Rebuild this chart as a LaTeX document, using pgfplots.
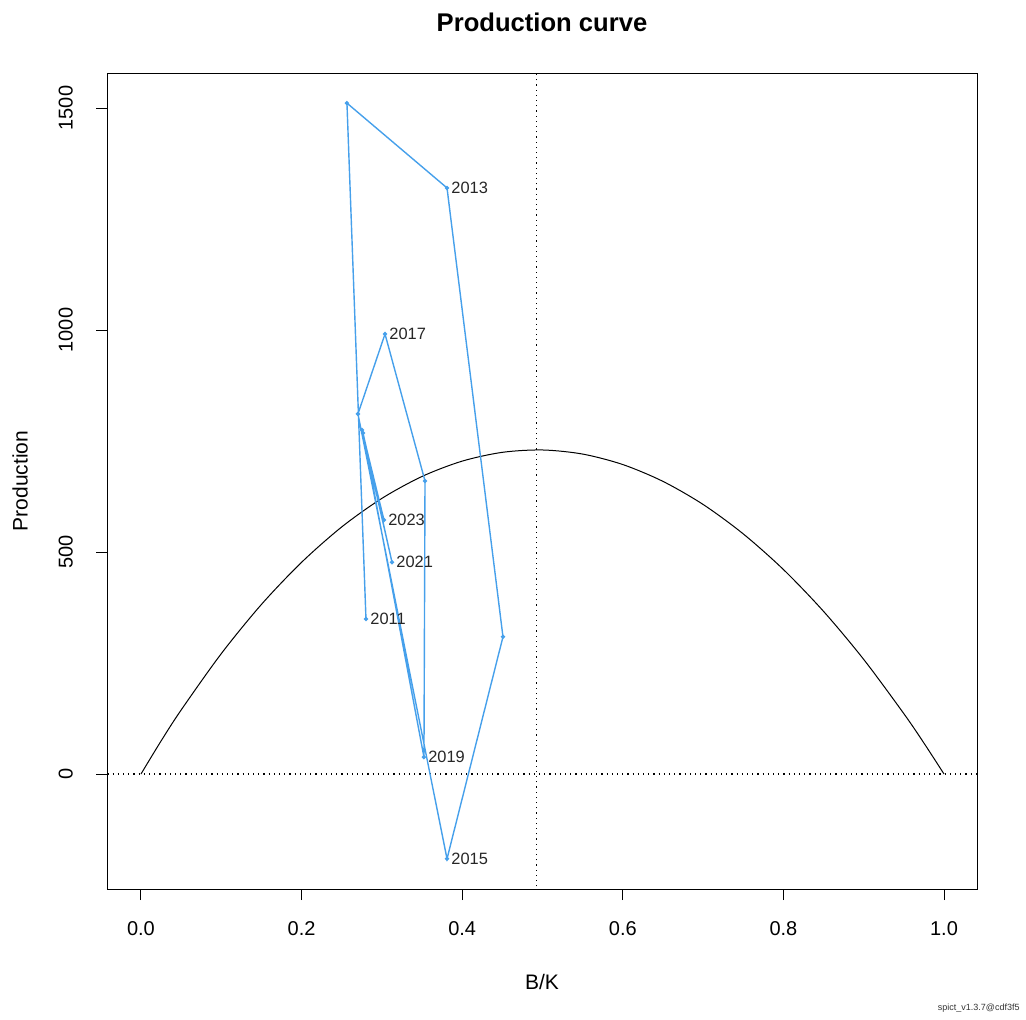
\documentclass[border=0pt]{standalone}
\usepackage{pgfplots}
\pgfplotsset{compat=1.18}
\usepackage{pgfplotstable}
\usepackage{fontspec}
\setmainfont{Liberation Sans}
\definecolor{spblue}{RGB}{70,160,235}

\pgfplotstableread{
x y
0.2802 349
0.2565 1511
0.3811 1320
0.4508 309
0.3811 -191
0.2702 811
0.3039 991
0.3537 660
0.3524 38
0.2765 768
0.3126 477
0.2752 775
0.3026 572
}\traj

\pgfplotstableread{
x y lab
0.2802 349 2011
0.3811 1320 2013
0.3811 -191 2015
0.3039 991 2017
0.3524 38 2019
0.3126 477 2021
0.3026 572 2023
}\labs

\pgfplotstableread{
x y
0 0
0.025 74.3
0.05 144.1
0.1 271.1
0.15 381.9
0.2 476.8
0.25 556.5
0.3 620.8
0.35 670.2
0.4 704.7
0.45 724.5
0.5 729.8
0.55 720.6
0.6 697.0
0.65 659.1
0.7 607.1
0.75 540.8
0.8 460.6
0.85 366.3
0.9 258.1
0.95 135.9
0.975 69.7
1.0 0
}\curve

\begin{document}
\begin{tikzpicture}[x=1pt,y=1pt]
\path (0,0) rectangle (513,509.5);
\begin{axis}[
  at={(53.5pt,65pt)}, anchor=south west,
  scale only axis, width=435pt, height=407.5pt,
  xmin=-0.0423, xmax=1.0411, ymin=-259, ymax=1576.6,
  xtick={0,0.2,0.4,0.6,0.8,1}, ytick={0,500,1000,1500},
  xticklabel style={/pgf/number format/fixed,/pgf/number format/precision=1,/pgf/number format/fixed zerofill},
  yticklabel style={rotate=90, anchor=south, /pgf/number format/1000 sep={}},
  /pgf/number format/assume math mode=true,
  scaled ticks=false,
  xticklabel shift=7pt, yticklabel shift=8pt,
  tick align=outside, major tick length=5.5pt,
  tick style={black, line width=0.5pt},
  axis line style={line width=0.5pt},
  tick label style={font=\fontsize{10}{12}\selectfont},
  xtick pos=bottom, ytick pos=left,
]
\addplot[black, line width=0.5pt, smooth] table[x=x,y=y] {\curve};
\addplot[black, dotted, line width=0.6pt] coordinates {(-0.1,0) (1.1,0)};
\addplot[black, dotted, line width=0.6pt] coordinates {(0.493,-300) (0.493,1700)};
\addplot[spblue, line width=0.7pt, mark=*, mark size=0.7pt, mark options={spblue}] table[x=x,y=y] {\traj};
\addplot[only marks, mark=none, point meta=explicit symbolic,
  nodes near coords, nodes near coords style={anchor=west, font=\fontsize{8.2}{10}\selectfont, text=black!85, inner sep=2pt}]
  table[x=x,y=y,meta=lab] {\labs};
\end{axis}
\node[font=\bfseries\fontsize{12.8}{15}\selectfont] at (271,498.5) {Production curve};
\node[font=\fontsize{10.5}{12}\selectfont, anchor=base] at (271,14.75) {B/K};
\node[font=\fontsize{10.5}{12}\selectfont, anchor=base, rotate=90] at (13.75,269) {Production};
\node[font=\fontsize{4.5}{5}\selectfont, anchor=east, inner sep=0pt, text=black!80] at (510,5.5) {spict\_v1.3.7@cdf3f5};
\end{tikzpicture}
\end{document}
